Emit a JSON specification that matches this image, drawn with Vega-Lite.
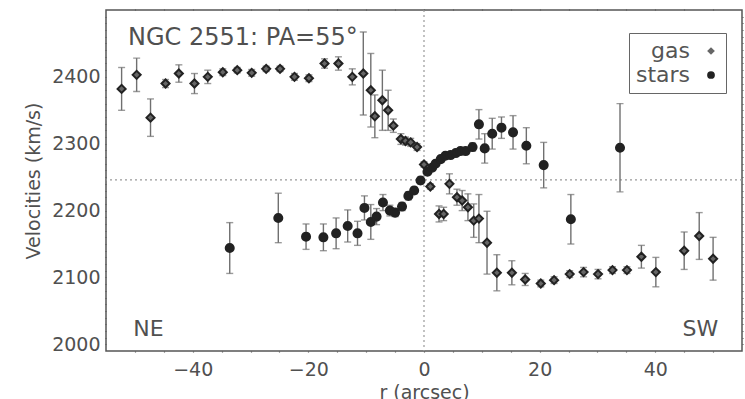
{
  "$schema": "https://vega.github.io/schema/vega-lite/v6.json",
  "width": 636,
  "height": 341,
  "autosize": {"type": "none"},
  "padding": {"left": 106, "top": 10, "right": 3, "bottom": 48},
  "background": "white",
  "config": {
    "view": {"stroke": "#555", "strokeWidth": 1.5},
    "axis": {
      "domain": false, "grid": false,
      "labelFont": "DejaVu Sans", "labelFontSize": 19, "labelColor": "#505050",
      "tickColor": "#555", "tickWidth": 1.2, "tickSize": 1,
      "titleFont": "DejaVu Sans", "titleFontSize": 19, "titleFontWeight": "normal", "titleColor": "#505050"
    }
  },
  "datasets": {
    "pts": [
      {"series": "gas", "r": -52.3, "v": 2382, "err": 32},
      {"series": "gas", "r": -49.7, "v": 2403, "err": 25},
      {"series": "gas", "r": -47.3, "v": 2339, "err": 28},
      {"series": "gas", "r": -44.7, "v": 2390, "err": 6},
      {"series": "gas", "r": -42.4, "v": 2405, "err": 13},
      {"series": "gas", "r": -39.7, "v": 2390, "err": 15},
      {"series": "gas", "r": -37.4, "v": 2400, "err": 10},
      {"series": "gas", "r": -34.8, "v": 2407, "err": 5},
      {"series": "gas", "r": -32.3, "v": 2410, "err": 4},
      {"series": "gas", "r": -29.8, "v": 2406, "err": 5},
      {"series": "gas", "r": -27.3, "v": 2412, "err": 4},
      {"series": "gas", "r": -24.9, "v": 2412, "err": 4},
      {"series": "gas", "r": -22.4, "v": 2400, "err": 5},
      {"series": "gas", "r": -19.9, "v": 2398, "err": 5},
      {"series": "gas", "r": -17.2, "v": 2420, "err": 7},
      {"series": "gas", "r": -14.8, "v": 2420, "err": 10},
      {"series": "gas", "r": -12.4, "v": 2400, "err": 12},
      {"series": "gas", "r": -10.5, "v": 2405, "err": 62},
      {"series": "gas", "r": -9.2, "v": 2380, "err": 55},
      {"series": "gas", "r": -8.5, "v": 2341, "err": 32},
      {"series": "gas", "r": -7.2, "v": 2365, "err": 45},
      {"series": "gas", "r": -6.2, "v": 2350, "err": 30},
      {"series": "gas", "r": -5.3, "v": 2327, "err": 10},
      {"series": "gas", "r": -4.0, "v": 2307, "err": 8},
      {"series": "gas", "r": -3.2, "v": 2304, "err": 6},
      {"series": "gas", "r": -2.3, "v": 2302, "err": 6},
      {"series": "gas", "r": -1.2, "v": 2295, "err": 5},
      {"series": "gas", "r": 0.0, "v": 2269, "err": 4},
      {"series": "gas", "r": 1.1, "v": 2236, "err": 4},
      {"series": "gas", "r": 2.6, "v": 2195, "err": 12},
      {"series": "gas", "r": 3.4, "v": 2195, "err": 10},
      {"series": "gas", "r": 4.4, "v": 2240, "err": 15},
      {"series": "gas", "r": 5.7, "v": 2220, "err": 12},
      {"series": "gas", "r": 6.6, "v": 2215, "err": 15},
      {"series": "gas", "r": 7.6, "v": 2205, "err": 20},
      {"series": "gas", "r": 8.6, "v": 2185, "err": 25},
      {"series": "gas", "r": 9.5, "v": 2188, "err": 36},
      {"series": "gas", "r": 10.9, "v": 2152, "err": 47},
      {"series": "gas", "r": 12.6, "v": 2107, "err": 27},
      {"series": "gas", "r": 15.2, "v": 2107, "err": 18},
      {"series": "gas", "r": 17.5, "v": 2097, "err": 9},
      {"series": "gas", "r": 20.2, "v": 2091, "err": 5},
      {"series": "gas", "r": 22.5, "v": 2096, "err": 5},
      {"series": "gas", "r": 25.2, "v": 2105, "err": 5},
      {"series": "gas", "r": 27.6, "v": 2108, "err": 7},
      {"series": "gas", "r": 30.1, "v": 2105, "err": 7},
      {"series": "gas", "r": 32.6, "v": 2111, "err": 5},
      {"series": "gas", "r": 35.1, "v": 2111, "err": 5},
      {"series": "gas", "r": 37.6, "v": 2131, "err": 17},
      {"series": "gas", "r": 40.1, "v": 2108, "err": 22},
      {"series": "gas", "r": 45.0, "v": 2140, "err": 28},
      {"series": "gas", "r": 47.6, "v": 2162, "err": 35},
      {"series": "gas", "r": 50.0, "v": 2128, "err": 32},
      {"series": "stars", "r": -33.6, "v": 2144, "err": 38},
      {"series": "stars", "r": -25.2, "v": 2189, "err": 37},
      {"series": "stars", "r": -20.4, "v": 2161, "err": 19},
      {"series": "stars", "r": -17.4, "v": 2160, "err": 20},
      {"series": "stars", "r": -15.2, "v": 2166, "err": 23},
      {"series": "stars", "r": -13.2, "v": 2177, "err": 24},
      {"series": "stars", "r": -11.5, "v": 2166, "err": 18},
      {"series": "stars", "r": -10.3, "v": 2204, "err": 18},
      {"series": "stars", "r": -9.2, "v": 2183, "err": 26},
      {"series": "stars", "r": -8.2, "v": 2191, "err": 12},
      {"series": "stars", "r": -7.1, "v": 2212, "err": 12},
      {"series": "stars", "r": -5.9, "v": 2200, "err": 8},
      {"series": "stars", "r": -5.0, "v": 2197, "err": 6},
      {"series": "stars", "r": -3.8, "v": 2206, "err": 6},
      {"series": "stars", "r": -2.7, "v": 2222, "err": 6},
      {"series": "stars", "r": -1.7, "v": 2230, "err": 5},
      {"series": "stars", "r": -0.6, "v": 2245, "err": 5},
      {"series": "stars", "r": 0.6, "v": 2258, "err": 4},
      {"series": "stars", "r": 1.4, "v": 2264, "err": 4},
      {"series": "stars", "r": 2.0, "v": 2270, "err": 4},
      {"series": "stars", "r": 2.9, "v": 2277, "err": 4},
      {"series": "stars", "r": 3.7, "v": 2282, "err": 4},
      {"series": "stars", "r": 4.6, "v": 2283, "err": 4},
      {"series": "stars", "r": 5.5, "v": 2286, "err": 4},
      {"series": "stars", "r": 6.3, "v": 2289, "err": 4},
      {"series": "stars", "r": 7.2, "v": 2289, "err": 4},
      {"series": "stars", "r": 8.4, "v": 2295, "err": 6},
      {"series": "stars", "r": 9.5, "v": 2329, "err": 22},
      {"series": "stars", "r": 10.5, "v": 2293, "err": 22},
      {"series": "stars", "r": 11.8, "v": 2315, "err": 23},
      {"series": "stars", "r": 13.4, "v": 2324, "err": 16},
      {"series": "stars", "r": 15.4, "v": 2317, "err": 25},
      {"series": "stars", "r": 17.7, "v": 2297, "err": 27},
      {"series": "stars", "r": 20.7, "v": 2268, "err": 34},
      {"series": "stars", "r": 25.4, "v": 2187, "err": 37},
      {"series": "stars", "r": 33.9, "v": 2294, "err": 66}
    ]
  },
  "layer": [
    {
      "data": {"values": [{}]},
      "mark": {"type": "rule", "strokeDash": [2, 3], "color": "#999", "strokeWidth": 1.2},
      "encoding": {"x": {"datum": 0, "type": "quantitative", "scale": {"domain": [-55, 55], "nice": false, "zero": false}, "axis": null}}
    },
    {
      "data": {"values": [{}]},
      "mark": {"type": "rule", "strokeDash": [2, 3], "color": "#999", "strokeWidth": 1.2},
      "encoding": {"y": {"datum": 2246, "type": "quantitative", "scale": {"domain": [1990, 2500], "nice": false, "zero": false}, "axis": null}}
    },
    {
      "data": {"name": "pts"},
      "mark": {"type": "errorbar", "color": "#707070", "thickness": 1.4, "ticks": {"size": 7}},
      "encoding": {
        "x": {
          "field": "r", "type": "quantitative",
          "scale": {"domain": [-55, 55], "nice": false, "zero": false},
          "axis": {
            "orient": "bottom", "title": "r (arcsec)", "format": "d",
            "values": [-50, -45, -40, -35, -30, -25, -20, -15, -10, -5, 0, 5, 10, 15, 20, 25, 30, 35, 40, 45, 50],
            "labelExpr": "datum.value % 20 === 0 ? datum.label : ''",
            "encode": {"ticks": {"update": {"y2": {"signal": "datum.value % 20 === 0 ? -9 : -4"}}}},
            "labelPadding": 8, "titlePadding": 4, "labelOverlap": false, "labelFlush": false
          }
        },
        "y": {
          "field": "v", "type": "quantitative",
          "scale": {"domain": [1990, 2500], "nice": false, "zero": false},
          "axis": {
            "orient": "left", "title": "Velocities (km/s)", "format": "d",
            "values": [2000, 2010, 2020, 2030, 2040, 2050, 2060, 2070, 2080, 2090, 2100, 2110, 2120, 2130, 2140, 2150, 2160, 2170, 2180, 2190, 2200, 2210, 2220, 2230, 2240, 2250, 2260, 2270, 2280, 2290, 2300, 2310, 2320, 2330, 2340, 2350, 2360, 2370, 2380, 2390, 2400, 2410, 2420, 2430, 2440, 2450, 2460, 2470, 2480, 2490],
            "labelExpr": "datum.value % 100 === 0 ? datum.label : ''",
            "encode": {"ticks": {"update": {"x2": {"signal": "datum.value % 100 === 0 ? 9 : 4"}}}},
            "labelPadding": 5, "titlePadding": 8, "labelOverlap": false, "labelFlush": false
          }
        },
        "yError": {"field": "err"}
      }
    },
    {
      "data": {"name": "pts"},
      "mark": {"type": "point", "filled": true, "size": 65, "stroke": "#222", "strokeWidth": 2, "opacity": 1},
      "encoding": {
        "x": {
          "field": "r", "type": "quantitative",
          "scale": {"domain": [-55, 55], "nice": false, "zero": false},
          "axis": {
            "orient": "top", "title": null, "labels": false,
            "values": [-50, -45, -40, -35, -30, -25, -20, -15, -10, -5, 0, 5, 10, 15, 20, 25, 30, 35, 40, 45, 50],
            "encode": {"ticks": {"update": {"y2": {"signal": "datum.value % 20 === 0 ? 9 : 4"}}}}
          }
        },
        "y": {
          "field": "v", "type": "quantitative",
          "scale": {"domain": [1990, 2500], "nice": false, "zero": false},
          "axis": {
            "orient": "right", "title": null, "labels": false,
            "values": [2000, 2010, 2020, 2030, 2040, 2050, 2060, 2070, 2080, 2090, 2100, 2110, 2120, 2130, 2140, 2150, 2160, 2170, 2180, 2190, 2200, 2210, 2220, 2230, 2240, 2250, 2260, 2270, 2280, 2290, 2300, 2310, 2320, 2330, 2340, 2350, 2360, 2370, 2380, 2390, 2400, 2410, 2420, 2430, 2440, 2450, 2460, 2470, 2480, 2490],
            "encode": {"ticks": {"update": {"x2": {"signal": "datum.value % 100 === 0 ? -9 : -4"}}}}
          }
        },
        "shape": {
          "field": "series", "type": "nominal",
          "scale": {"domain": ["gas", "stars"], "range": ["diamond", "circle"]},
          "legend": {
            "title": null, "orient": "none", "legendX": 523, "legendY": 23,
            "strokeColor": "#666", "fillColor": "white", "padding": 7,
            "labelFont": "DejaVu Sans", "labelFontSize": 22, "labelColor": "#555",
            "labelAlign": "right", "symbolOffset": 64, "labelOffset": -32,
            "symbolSize": 60, "symbolStrokeColor": "#222", "symbolStrokeWidth": 2, "rowPadding": 2
          }
        },
        "fill": {
          "field": "series", "type": "nominal",
          "scale": {"domain": ["gas", "stars"], "range": ["#666666", "#222222"]},
          "legend": {
            "title": null, "orient": "none", "legendX": 523, "legendY": 23,
            "strokeColor": "#666", "fillColor": "white", "padding": 7,
            "labelFont": "DejaVu Sans", "labelFontSize": 22, "labelColor": "#555",
            "labelAlign": "right", "symbolOffset": 64, "labelOffset": -32,
            "symbolSize": 60, "symbolStrokeColor": "#222", "symbolStrokeWidth": 2, "rowPadding": 2
          }
        }
      }
    },
    {
      "data": {"values": [{}]},
      "mark": {"type": "text", "text": "NGC 2551: PA=55°", "font": "DejaVu Sans", "fontSize": 24, "color": "#505050", "align": "left", "baseline": "alphabetic"},
      "encoding": {
        "x": {"datum": -51.2, "type": "quantitative", "axis": null},
        "y": {"datum": 2448, "type": "quantitative", "axis": null}
      }
    },
    {
      "data": {"values": [{}]},
      "mark": {"type": "text", "text": "NE", "font": "DejaVu Sans", "fontSize": 22, "color": "#505050", "align": "left", "baseline": "alphabetic"},
      "encoding": {
        "x": {"datum": -50.3, "type": "quantitative", "axis": null},
        "y": {"datum": 2012, "type": "quantitative", "axis": null}
      }
    },
    {
      "data": {"values": [{}]},
      "mark": {"type": "text", "text": "SW", "font": "DejaVu Sans", "fontSize": 22, "color": "#505050", "align": "right", "baseline": "alphabetic"},
      "encoding": {
        "x": {"datum": 50.9, "type": "quantitative", "axis": null},
        "y": {"datum": 2012, "type": "quantitative", "axis": null}
      }
    }
  ],
  "resolve": {"axis": {"x": "independent", "y": "independent"}}
}
